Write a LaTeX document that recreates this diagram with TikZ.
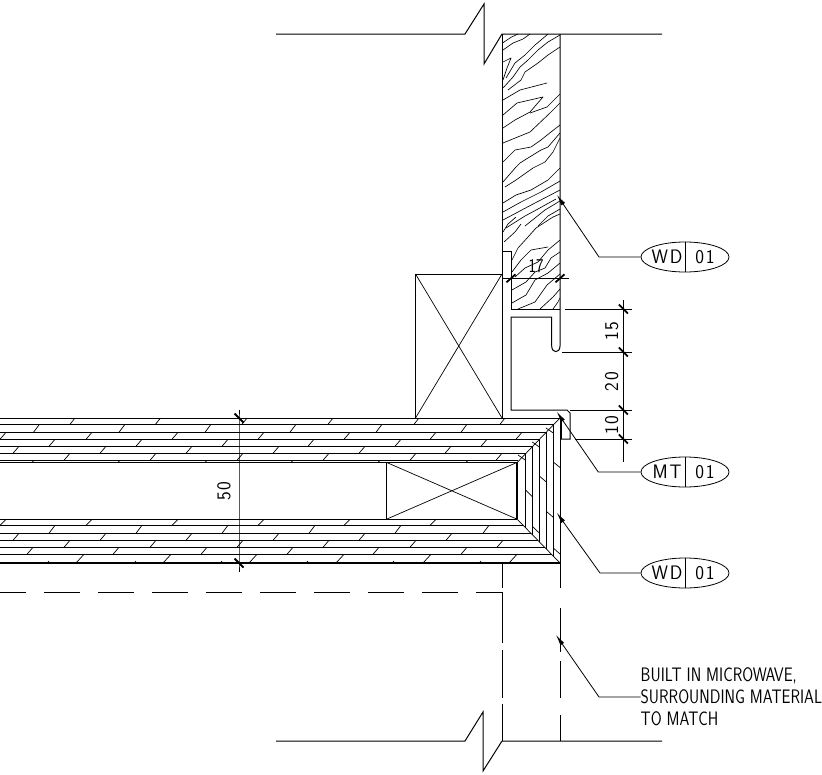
\documentclass[tikz,border=0pt]{standalone}
\usepackage{fontspec}
\usetikzlibrary{shapes,arrows.meta}
\newfontfamily\cadfont[FakeStretch=0.81]{Latin Modern Sans}
\newfontfamily\cadnum[FakeStretch=0.95,LetterSpace=9]{Latin Modern Sans}
\tikzstyle{outline} = [line width=1pt, line join=miter]
\tikzstyle{thinline} = [line width=0.7pt]
\tikzstyle{heavy} = [line width=2pt]
\tikzstyle{grain} = [line width=0.65pt, line join=round]
\tikzstyle{hatch} = [line width=0.7pt]
\tikzstyle{dimline} = [line width=0.8pt]
\tikzstyle{dimtick} = [line width=1.8pt]
\tikzstyle{leader} = [line width=0.8pt, {Latex[length=11pt,width=4.5pt]}-]
\tikzstyle{tagbox} = [draw, ellipse, line width=0.8pt, minimum width=88pt, minimum height=30pt, inner sep=0pt]
\tikzstyle{cadtext} = [inner sep=0pt, font=\cadfont\fontsize{19.5}{19.5}\selectfont]
\tikzstyle{cadlabel} = [inner sep=0pt, font=\cadnum\fontsize{19.5}{19.5}\selectfont]
\begin{document}
\begin{tikzpicture}[x=1pt,y=-1pt]
		\useasboundingbox (0,0) rectangle (822,774);

		\draw [grain] (503,42.7) -- (511,37.3) -- (518,34);
		\draw [grain] (503,50) -- (513,43) -- (523,39) -- (530,34);
		\draw [grain] (503,62) -- (511,58) -- (507,68) -- (503,80);
		\draw [grain] (506,78) -- (515,63) -- (525,55) -- (535,45) -- (541,40) -- (548,34);
		\draw [grain] (503,88) -- (513,77) -- (520,67) -- (528,60) -- (538,50) -- (548,42) -- (560,35);
		\draw [grain] (508,90) -- (521,80) -- (525,72) -- (538,63) -- (548,55) -- (560,47);
		\draw [grain] (503,100) -- (520,90) -- (547,83);
		\draw [grain] (503,115) -- (517,103) -- (543,97) -- (530,112) -- (515,120) -- (503,128);
		\draw [grain] (530,113) -- (547,107) -- (560,94);
		\draw [grain] (503,143) -- (530,132) -- (550,113) -- (560,103);
		\draw [grain] (503,162) -- (515,150) -- (531,147) -- (541,140) -- (551,132) -- (560,125);
		\draw [grain] (503,182) -- (516,167) -- (520,163) -- (528,158) -- (541,150) -- (548,147) -- (560,133);
		\draw [grain] (505,187) -- (516,180) -- (533,168) -- (545,162) -- (553,152) -- (560,138);
		\draw [grain] (503,203) -- (516,195) -- (531,190) -- (548,180) -- (560,168);
		\draw [grain] (503,212) -- (521,202) -- (541,192) -- (560,181);
		\draw [grain] (503,220) -- (518,212) -- (535,203) -- (560,190);
		\draw [grain] (506,228) -- (525,216) -- (538,209) -- (556,199);
		\draw [grain] (525,226) -- (535,218) -- (545,210) -- (560,201);
		\draw [grain] (538,226) -- (548,216) -- (560,209);
		\draw [grain] (503,232) -- (508,224) -- (516,217);
		\draw [grain] (504,242) -- (515,232) -- (521,224);
		\draw [grain] (512,260) -- (518,248) -- (528,237) -- (536,228) -- (553,217) -- (560,214);
		\draw [grain] (512,272) -- (521,260) -- (531,250) -- (548,247);
		\draw [grain] (515,277) -- (525,268) -- (538,262) -- (548,250) -- (560,240);
		\draw [grain] (512,290) -- (526,282) -- (535,272) -- (545,268) -- (551,258) -- (560,252);
		\draw [grain] (512,303) -- (526,295) -- (535,280) -- (548,273) -- (560,263);
		\draw [grain] (518,309) -- (535,302) -- (547,285) -- (560,274);
		\draw [grain] (540,309) -- (553,297) -- (560,289);
		\draw [grain] (553,309) -- (558,302) -- (560,298);

		\draw [outline] (276,34) -- (465,34) -- (484,4) -- (484,64) -- (502,34) -- (662,34);
		\draw [outline] (276,741) -- (465,741) -- (483,712) -- (483,771) -- (502,741) -- (662,741);
		\draw [outline] (502,34) -- (502,418);
		\draw [outline] (560,34) -- (560,346) .. controls (560,353.5) and (551.7,353.5) .. (551.7,346) -- (551.7,317) -- (511,317) -- (511,410) -- (567,410) -- (570,413) -- (570,439) -- (561,439);
		\draw [outline] (502,251) -- (511,251) -- (511,309) -- (560,309);
		\draw [outline] (415.5,418) -- (415.5,274) -- (502,274);
		\draw [thinline] (415.5,274) -- (502,418);
		\draw [thinline] (502,274) -- (415.5,418);

		\draw [outline] (0,418) -- (560,418) -- (560,588);
		\draw [outline] (0,424.3) -- (554,424.3);
		\draw [outline] (0,432.3) -- (546,432.3);
		\draw [outline] (0,439.3) -- (539,439.3);
		\draw [outline] (0,446.3) -- (532,446.3);
		\draw [outline] (0,453.3) -- (525,453.3);
		\draw [outline] (0,460.3) -- (518,460.3);
		\draw [outline] (0,462.3) -- (517.3,462.3);
		\draw [outline] (0,519.3) -- (517.3,519.3);
		\draw [outline] (0,525.3) -- (522.5,525.3);
		\draw [outline] (0,533.3) -- (530.5,533.3);
		\draw [outline] (0,540.3) -- (537.5,540.3);
		\draw [outline] (0,547.3) -- (544.5,547.3);
		\draw [outline] (0,554.3) -- (551.5,554.3);
		\draw [heavy] (0,563) -- (560,563);
		\draw [thinline] (560,418) -- (517.3,462.3);
		\draw [thinline] (560,563) -- (517.3,519.3);
		\draw [outline] (553.3,424.7) -- (553.3,556.3);
		\draw [outline] (546,432) -- (546,549);
		\draw [outline] (539.3,439) -- (539.3,542);
		\draw [outline] (532.3,446) -- (532.3,535);
		\draw [outline] (525.3,453) -- (525.3,528);
		\draw [heavy] (517.3,462.3) -- (517.3,519.3);
		\draw [heavy] (561,418) -- (561,439);

		\draw [outline] (386.3,462.3) -- (386.3,519.3);
		\draw [thinline] (386.3,462.3) -- (517.3,519.3);
		\draw [thinline] (386.3,519.3) -- (517.3,462.3);

		\foreach \x in {74,159.5,246,332,418,504} \draw [hatch] (\x-4,424.3) -- (\x+1,418);
		\foreach \x in {37.5,123,209,294,380,465} \draw [hatch] (\x-4,432.3) -- (\x+2,424.3);
		\foreach \x in {3,89,175,261,347,433,519} \draw [hatch] (\x-3,439.3) -- (\x+3,432.3);
		\foreach \x in {52,139,225,311,398,484} \draw [hatch] (\x-3,446.3) -- (\x+3,439.3);
		\foreach \x in {16,103,189,276,362,448} \draw [hatch] (\x-3,453.3) -- (\x+3,446.3);
		\foreach \x in {67,153,240,326,413,499} \draw [hatch] (\x-3,460.3) -- (\x+3,453.3);
		\foreach \x in {33,119,206,292,379,467} \draw [hatch] (\x-1,462.3) -- (\x+1,460.3);
		\foreach \x in {3,89,175,261,347,433} \draw [hatch] (\x-3,525.3) -- (\x+3,519.3);
		\foreach \x in {52,139,225,312,398,486} \draw [hatch] (\x-3,533.3) -- (\x+3,525.3);
		\foreach \x in {16,103,189,276,362,449} \draw [hatch] (\x-3,540.3) -- (\x+3,533.3);
		\foreach \x in {67,153,240,326,413,500} \draw [hatch] (\x-3,547.3) -- (\x+3,540.3);
		\foreach \x in {30,116,204,290,376,464} \draw [hatch] (\x-3,554.3) -- (\x+3,547.3);
		\foreach \x in {80,167,253,340,427,513} \draw [hatch] (\x-4,563) -- (\x+4,554.3);
		\foreach \x in {48,135,221,307,393,480} \draw [hatch] (\x-1,563) -- (\x+1,561);

		\draw [hatch] (553.3,462) -- (560,467.5);
		\draw [hatch] (553.3,548) -- (560,554);
		\draw [hatch] (546,428) -- (553.3,433);
		\draw [hatch] (546.7,511.7) -- (553.3,517.3);
		\draw [hatch] (539.3,476) -- (546,481.7);
		\draw [hatch] (532.3,442) -- (539.3,447);
		\draw [hatch] (532.7,526.7) -- (539.3,533);
		\draw [hatch] (525.7,490) -- (532.3,496.7);
		\draw [hatch] (518,455) -- (525.3,460);

		\draw [line width=0.9pt, dash pattern=on 36pt off 18pt, dash phase=10pt] (0,592) -- (502,592);
		\draw [outline] (502,563) -- (502,588);
		\draw [outline] (502,592) -- (502,643);
		\draw [outline] (502,650) -- (502,698);
		\draw [outline] (502,704) -- (502,741);
		\draw [outline] (560,608) -- (560,652);
		\draw [outline] (560,661) -- (560,698);
		\draw [outline] (560,715) -- (560,741);

		\coordinate (fl1) at (239,418);
		\coordinate (fl2) at (239,563);
		\coordinate (rt1) at (623.3,309);
		\coordinate (rt2) at (623.3,352);
		\coordinate (rt3) at (623.3,410);
		\coordinate (rt4) at (623.3,439);
		\coordinate (top1) at (511,278.3);
		\coordinate (top2) at (560,278.3);

		\draw [dimline] (239,410) -- (fl1) -- (fl2) -- (239,572);
		\draw [dimline] (623.3,300) -- (rt1) -- (rt2) -- (rt3) -- (rt4) -- (623.3,462);
		\draw [dimline] (565,309) -- (632,309);
		\draw [dimline] (562,352) -- (632,352);
		\draw [dimline] (570,410) -- (632,410);
		\draw [dimline] (575,439) -- (632,439);
		\draw [dimline] (502.7,278.3) -- (top1) -- (top2) -- (569,278.3);

		\foreach \c in {fl1,fl2,rt1,rt2,rt3,rt4} \draw [dimtick] (\c) ++(-4.5,-4.5) -- ++(9,9);
		\foreach \c in {top1,top2} \draw [dimtick] (\c) ++(-4.5,4) -- ++(9,-8);

		\node [cadlabel, rotate=90] (d50) at (224,491) {50};
		\node [cadlabel, rotate=90] (d15) at (611.7,331) {15};
		\node [cadlabel, rotate=90] (d20) at (611.7,381.7) {20};
		\node [cadlabel, rotate=90] (d10) at (611.7,425) {10};
		\node [cadtext] (d17) at (536,266) {17};

		\node [tagbox] (tag1) at (685,257) {};
		\node [tagbox, below of = tag1, node distance=215pt] (tag2) {};
		\node [tagbox, below of = tag2, node distance=101pt] (tag3) {};

		\foreach \t in {tag1,tag2,tag3} \draw [dimline] (\t.north) -- (\t.south);

		\node [cadlabel] (wd1) at (667,257) {WD};
		\node [cadlabel] (no1) at (705,257) {01};
		\node [cadlabel] (mt2) at (667,472) {MT};
		\node [cadlabel] (no2) at (705,472) {01};
		\node [cadlabel] (wd3) at (667,573) {WD};
		\node [cadlabel] (no3) at (705,573) {01};

		\node [cadtext, anchor=west] (note1) at (640.5,676) {BUILT IN MICROWAVE,};
		\node [cadtext, anchor=west] (note2) at (640.5,697) {SURROUNDING MATERIAL};
		\node [cadtext, anchor=west] (note3) at (640.5,719) {TO MATCH};

		\coordinate (p1) at (557,195);
		\coordinate (p2) at (556.7,411.7);
		\coordinate (p3) at (556.7,512.7);
		\coordinate (p4) at (556,635);

		\draw [leader] (p1) -- (599,257) -- (tag1.west);
		\draw [leader] (p2) -- (598.3,472) -- (tag2.west);
		\draw [leader] (p3) -- (600,573) -- (tag3.west);
		\draw [leader] (p4) -- (599,697) -- (note2.west);
\end{tikzpicture}
\end{document}
